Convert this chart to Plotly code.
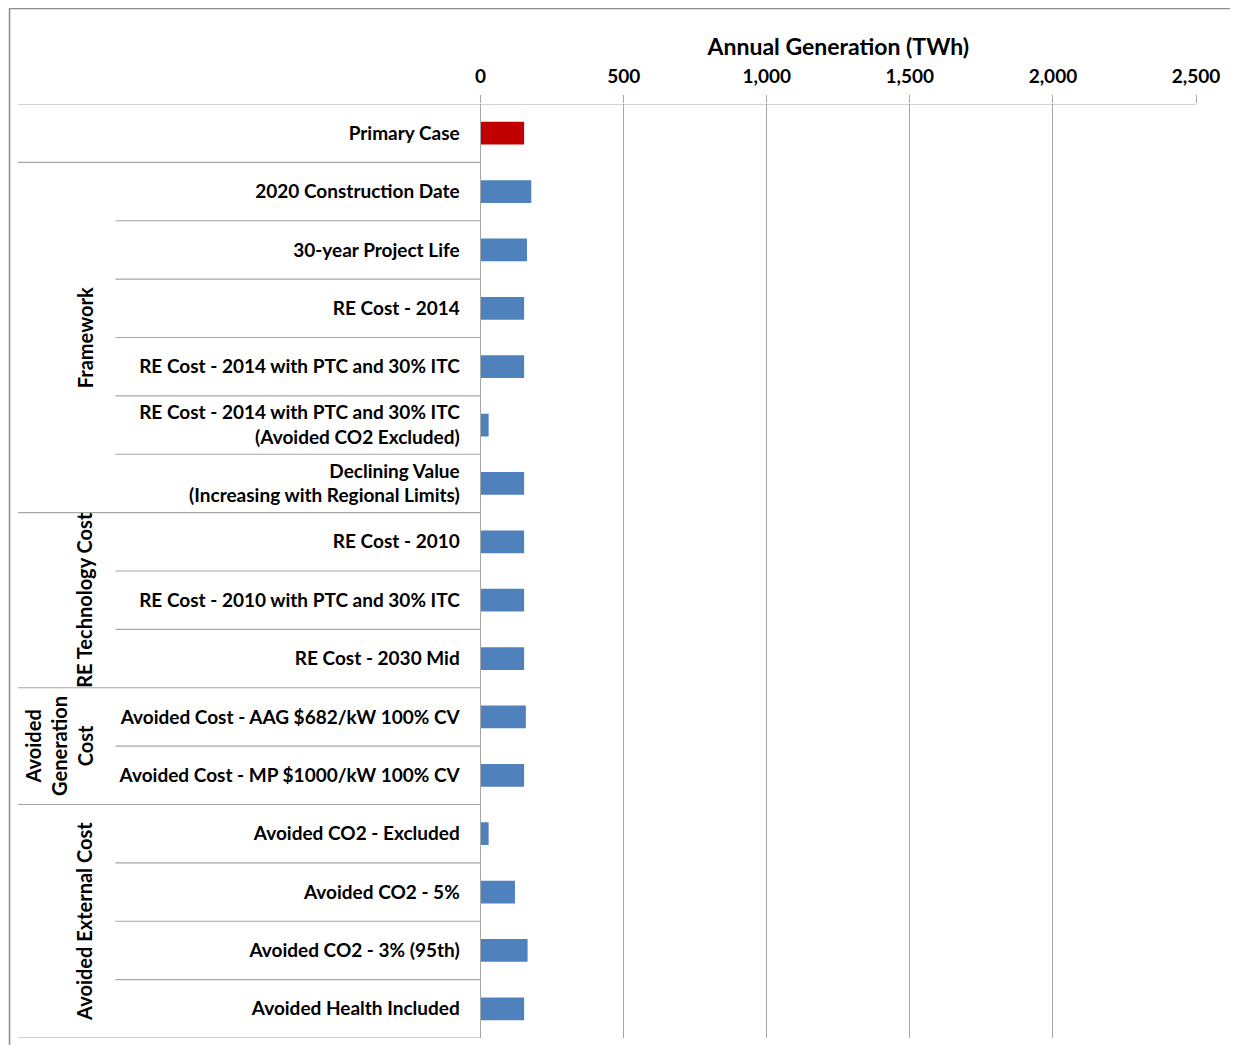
import plotly.graph_objects as go

categories = [
    "Primary Case",
    "2020 Construction Date",
    "30-year Project Life",
    "RE Cost - 2014",
    "RE Cost - 2014 with PTC and 30% ITC",
    "RE Cost - 2014 with PTC and 30% ITC<br>(Avoided CO2 Excluded)",
    "Declining Value<br>(Increasing with Regional Limits)",
    "RE Cost - 2010",
    "RE Cost - 2010 with PTC and 30% ITC",
    "RE Cost - 2030 Mid",
    "Avoided Cost - AAG $682/kW 100% CV",
    "Avoided Cost - MP $1000/kW 100% CV",
    "Avoided CO2 - Excluded",
    "Avoided CO2 - 5%",
    "Avoided CO2 - 3% (95th)",
    "Avoided Health Included",
]
values = [152, 177, 162, 152, 152, 28, 152, 152, 152, 152, 158, 152, 28, 120, 164, 152]
colors = ["#C00000"] + ["#4F81BD"] * 15
groups = [
    ("Framework", 1, 6),
    ("RE Technology Cost", 7, 9),
    ("Avoided<br>Generation<br>Cost", 10, 11),
    ("Avoided External Cost", 12, 15),
]
x_ticks = [0, 500, 1000, 1500, 2000, 2500]
x_ticktext = ["0", "500", "1,000", "1,500", "2,000", "2,500"]

OFF = 8  # page body margin
W, H = 1222, 1037
PL, PR, PT, PB = 477 - OFF, 1196 - OFF, 104 - OFF, 1038 - OFF
PW = PR
PH = PB - PT
FONT = "Lato"
GRID = "#A6A6A6"

ypos = list(range(len(categories)))

fig = go.Figure()
fig.add_trace(go.Bar(
    x=values, y=ypos, orientation="h",
    marker=dict(color=colors, line=dict(width=0)),
    width=0.39, showlegend=False,
))

def xp(page_x):
    return (page_x - OFF) / PW

def yp(page_y):
    return (PB - (page_y - OFF)) / PH

AXL = PL / PW  # paper x of the category axis
shapes = []
shapes.append(dict(type="line", xref="paper", yref="y", x0=xp(12), x1=1,
                   y0=-0.5, y1=-0.5, line=dict(color=GRID, width=1.2)))
shapes.append(dict(type="line", xref="paper", yref="y", x0=xp(12), x1=AXL,
                   y0=15.5, y1=15.5, line=dict(color=GRID, width=1.2)))
group_bounds = {0.5, 6.5, 9.5, 11.5}
for i in range(len(categories) - 1):
    b = i + 0.5
    x0 = 12 if b in group_bounds else 110
    shapes.append(dict(type="line", xref="paper", yref="y", x0=xp(x0), x1=AXL,
                       y0=b, y1=b, line=dict(color=GRID, width=1.2)))
# outer frame
shapes.append(dict(type="line", xref="paper", yref="paper", x0=xp(3), x1=xp(1240),
                   y0=yp(8.5), y1=yp(8.5), line=dict(color="#8C8C8C", width=1.5)))
shapes.append(dict(type="line", xref="paper", yref="paper", x0=xp(3.5), x1=xp(3.5),
                   y0=yp(1060), y1=yp(8.5), line=dict(color="#8C8C8C", width=1.5)))

annotations = []
for name, a, b in groups:
    nlines = name.count("<br>") + 1
    xc = 79 if nlines == 1 else 53
    annotations.append(dict(text=name, xref="paper", yref="y", x=xp(xc), y=(a + b) / 2,
                            textangle=-90, showarrow=False, xanchor="center", yanchor="middle",
                            font=dict(family=FONT, size=20, color="black", weight="bold")))

fig.update_layout(
    width=W, height=H,
    margin=dict(l=0, r=W - PR, t=PT, b=H - PB),
    paper_bgcolor="white", plot_bgcolor="white",
    font=dict(family=FONT, size=19, color="black"),
    shapes=shapes, annotations=annotations,
    xaxis=dict(
        domain=[AXL, 1], range=[0, 2500], side="top",
        tickvals=x_ticks, ticktext=x_ticktext,
        tickfont=dict(family=FONT, size=19, weight="bold"),
        showgrid=True, gridcolor=GRID, gridwidth=1.2,
        ticks="outside", ticklen=8, tickcolor=GRID, ticklabelstandoff=4,
        showline=False, zeroline=False,
        title=dict(text="Annual Generation (TWh)", standoff=2,
                   font=dict(family=FONT, size=23, weight="bold")),
    ),
    yaxis=dict(
        range=[15.5, -0.5], tickvals=ypos, ticktext=categories,
        tickfont=dict(family=FONT, size=19, weight="bold"),
        showgrid=False, zeroline=False, showline=True, linecolor=GRID, linewidth=1.2,
        ticks="", ticklabelstandoff=16,
    ),
)

fig.write_html("out.html")
